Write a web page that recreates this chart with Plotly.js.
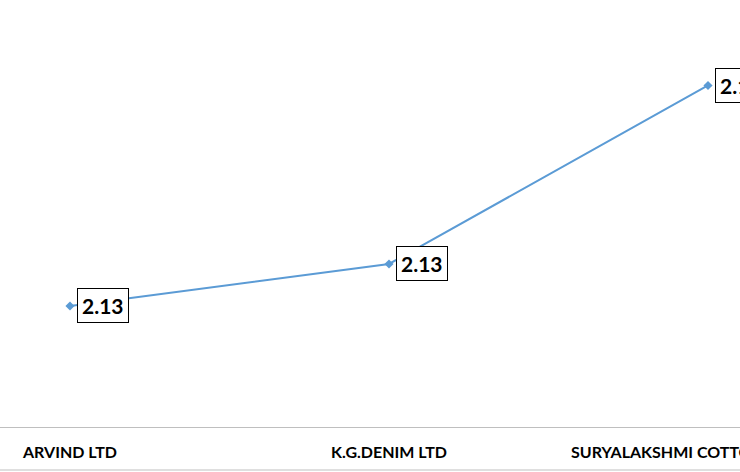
<!DOCTYPE html>
<html>
<head>
<meta charset="utf-8">
<script src="https://cdn.plot.ly/plotly-3.0.1.min.js"></script>
<style>html,body{margin:0;padding:0;background:#fff;}#chart{width:740px;height:472px;}</style>
</head>
<body>
<div id="chart"></div>
<script>
const categories = ["ARVIND LTD", "K.G.DENIM LTD", "SURYALAKSHMI COTTON MILLS LTD"];
const values = [2.126, 2.134, 2.168];
const labelTexts = values.map(v => v.toFixed(2));

const trace = {
  type: "scatter",
  mode: "lines+markers",
  x: [0, 1, 2],
  y: values,
  line: {color: "#5b9bd5", width: 2},
  marker: {symbol: "diamond", size: 7, color: "#5b9bd5"},
  hoverinfo: "skip"
};

const valueLabels = values.map((v, i) => ({
  x: i, y: v, xref: "x", yref: "y",
  text: labelTexts[i],
  showarrow: false,
  xanchor: "left", yanchor: "middle",
  xshift: 7,
  font: {family: "Lato, 'Open Sans', sans-serif", size: 21, color: "#000", weight: "bold"},
  bgcolor: "#ffffff",
  bordercolor: "#000000",
  borderwidth: 1,
  borderpad: 4
}));

const catLabels = categories.map((c, i) => ({
  x: i, y: -24/427, xref: "x", yref: "paper",
  text: c, showarrow: false,
  xanchor: "center", yanchor: "middle",
  font: {family: "Lato, 'Open Sans', sans-serif", size: 16, color: "#000", weight: "bold"}
}));

const layout = {
  width: 740, height: 472,
  margin: {l: 0, r: 0, t: 0, b: 45},
  paper_bgcolor: "#fff", plot_bgcolor: "#fff",
  showlegend: false,
  xaxis: {
    range: [-0.2194, 2.1003],
    tickmode: "array", tickvals: [0, 1, 2],
    showticklabels: false,
    showgrid: false, zeroline: false,
    showline: true, linecolor: "#bfbfbf", linewidth: 1,
    ticks: ""
  },
  yaxis: {
    range: [2.10295, 2.18428],
    visible: false, showgrid: false, zeroline: false
  },
  annotations: valueLabels.concat(catLabels),
  shapes: [{
    type: "line", xref: "paper", yref: "paper",
    x0: 0, x1: 1, y0: -43/427, y1: -43/427,
    line: {color: "#bfbfbf", width: 1}
  }]
};

Plotly.newPlot("chart", [trace], layout, {displayModeBar: false, staticPlot: true});
</script>
</body>
</html>
